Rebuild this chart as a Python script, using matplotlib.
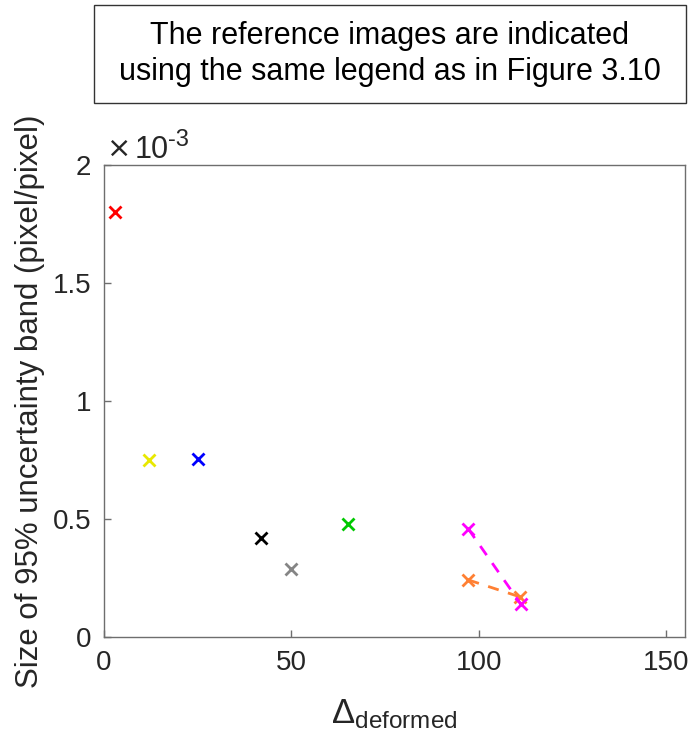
import numpy as np
import matplotlib
matplotlib.use('Agg')
import matplotlib.pyplot as plt
from matplotlib.patches import Rectangle
from matplotlib.transforms import offset_copy

plt.rcParams['font.family'] = ['Liberation Sans', 'DejaVu Sans']
plt.rcParams['mathtext.fontset'] = 'custom'
plt.rcParams['mathtext.rm'] = 'Liberation Sans'
plt.rcParams['mathtext.it'] = 'Liberation Sans:italic'

# one marker per reference image (delta_deformed, band size in 1e-3 pixel/pixel)
delta = [3, 12, 25, 42, 50, 65]
band = [1.80, 0.75, 0.755, 0.42, 0.288, 0.478]
colors = ['#ff0000', '#e8e800', '#0000ff', '#000000', '#858585', '#00c800']

# paired references joined by dashed lines
pair_delta = {'magenta': [97.2, 111.2], 'orange': [97.2, 111.0]}
pair_band = {'magenta': [0.458, 0.14], 'orange': [0.242, 0.17]}
pair_colors = {'magenta': '#ff00ff', 'orange': '#ff8033'}

y_ticks = [0, 0.5, 1, 1.5, 2]
x_ticks = [0, 50, 100, 150]

fig = plt.figure(figsize=(6.91, 7.35), dpi=100)
ax = fig.add_axes([0.1505, 0.1333, 0.8408, 0.642])

for x, y, c in zip(delta, band, colors):
    ax.plot(x, y * 1e-3, 'x', color=c, ms=8.5, mew=2.0)

for key in ['orange', 'magenta']:
    ax.plot(pair_delta[key], np.array(pair_band[key]) * 1e-3, '--x',
            color=pair_colors[key], lw=2.0, ms=8.5, mew=2.0, dashes=(4, 3.5))

ax.set_xlim(0, 155)
ax.set_ylim(0, 2e-3)
ax.set_xticks(x_ticks)
ax.set_xticklabels([str(t) for t in x_ticks])
ax.set_yticks([t * 1e-3 for t in y_ticks])
ax.set_yticklabels(['0', '0.5', '1', '1.5', '2'])

gray = '#262626'
for s in ax.spines.values():
    s.set_color('#6e6e6e')
    s.set_linewidth(1.0)
ax.tick_params(direction='in', length=5, width=1.0, colors='#6e6e6e',
               labelcolor=gray, labelsize=20, pad=9)

# exponent label: large "x", then "10", then a raised "-3"
fig.canvas.draw()
renderer = fig.canvas.get_renderer()
dx = 0
for txt, size, dy, gap in [('\u00d7', 21, 1, 3), ('10', 22, 0, 0), ('-3', 17, 12, 0)]:
    t = ax.text(0.0, 1.015, txt, fontsize=size, color=gray, ha='left',
                va='baseline', family=['DejaVu Sans'] if txt == '\u00d7' else None,
                transform=offset_copy(ax.transAxes, fig=fig, x=dx + 3, y=dy,
                                      units='dots'))
    dx += t.get_window_extent(renderer).width + gap

ax.set_ylabel('Size of 95% uncertainty band (pixel/pixel)', fontsize=22.5,
              color=gray, labelpad=6)
ax.set_xlabel(r'$\Delta_{\mathregular{deformed}}$', fontsize=25, color=gray,
              labelpad=16)

# note box above the axes
box = Rectangle((94 / 691, 1 - 103 / 735), 592 / 691, 98 / 735,
                transform=fig.transFigure, fill=False, ec='#333333', lw=1.0)
fig.patches.append(box)
fig.text(390 / 691, 1 - 54 / 735,
         'The reference images are indicated\nusing the same legend as in Figure 3.10',
         ha='center', va='center', fontsize=22, color='black', linespacing=1.25)

fig.savefig('out.png', dpi=100)
